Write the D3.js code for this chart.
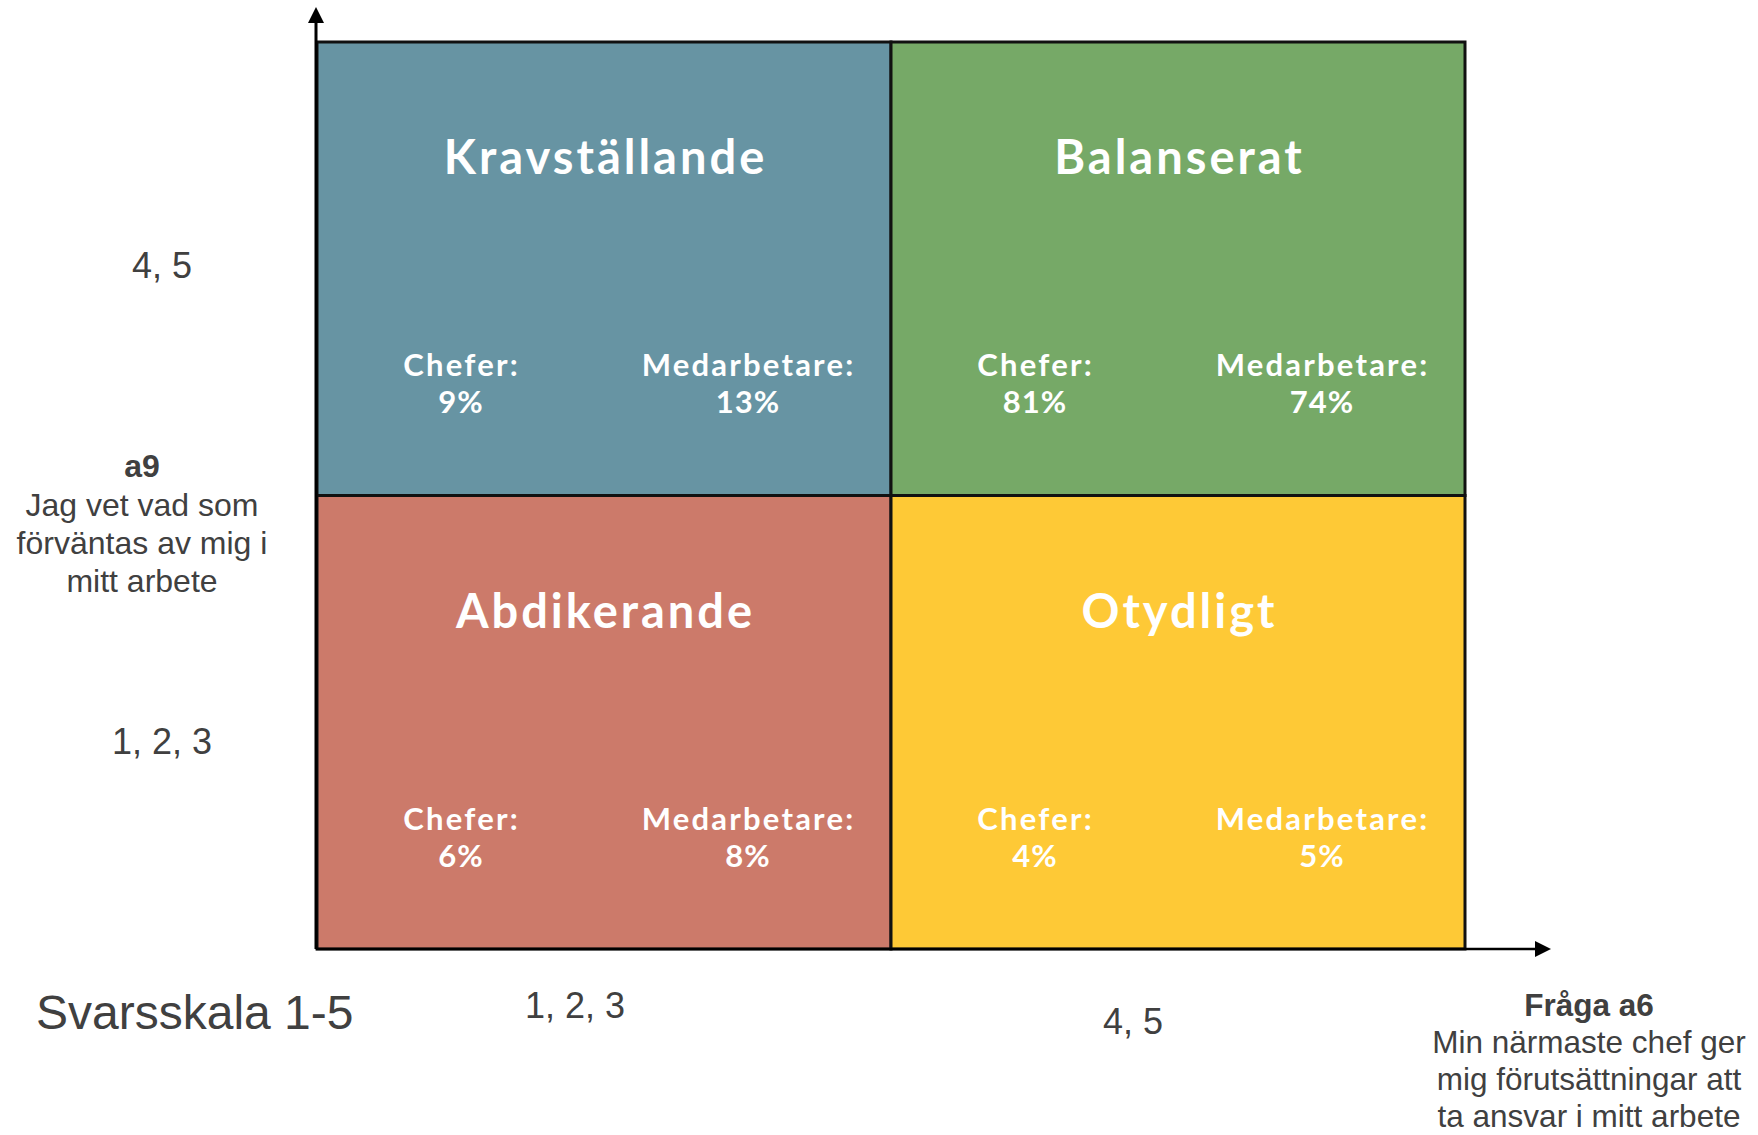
<!DOCTYPE html>
<html>
<head>
<meta charset="utf-8">
<script src="https://cdn.jsdelivr.net/npm/d3@7"></script>
<style>
  html, body { margin: 0; padding: 0; background: #ffffff; }
  svg { display: block; }
</style>
</head>
<body>
<svg id="chart" width="1758" height="1135"></svg>
<script>
// ---- data ----
const xCategories = ["1, 2, 3", "4, 5"];            // Fråga a6 answer groups
const yCategories = ["1, 2, 3", "4, 5"];            // a9 answer groups
const quadrantX = ["1, 2, 3", "4, 5", "1, 2, 3", "4, 5"];
const quadrantY = ["4, 5", "4, 5", "1, 2, 3", "1, 2, 3"];
const quadrantNames = ["Kravställande", "Balanserat", "Abdikerande", "Otydligt"];
const cheferValues = [9, 81, 6, 4];
const medarbetareValues = [13, 74, 8, 5];
const groupLabels = ["Chefer:", "Medarbetare:"];
const scaleLabel = "Svarsskala 1-5";
const yTitleBold = "a9";
const yTitleLines = ["Jag vet vad som", "förväntas av mig i", "mitt arbete"];
const xTitleBold = "Fråga a6";
const xTitleLines = ["Min närmaste chef ger", "mig förutsättningar att", "ta ansvar i mitt arbete"];

// ---- styles ----
const quadColors = ["#6794A3", "#76A967", "#CC7A6A", "#FEC936"];
const textGray = "#404040";
const titleFont = "Lato, 'Noto Sans', sans-serif";
const labelFont = "'Liberation Sans', Arial, sans-serif";

const svg = d3.select("#chart");
const plotLeft = 317, plotRight = 1465, plotTop = 42, plotBottom = 949;

const x = d3.scaleBand().domain(xCategories).range([plotLeft, plotRight]);
const y = d3.scaleBand().domain(yCategories).range([plotBottom, plotTop]);

const quads = quadrantNames.map((name, i) => ({
  name, xk: quadrantX[i], yk: quadrantY[i],
  chefer: cheferValues[i], medarbetare: medarbetareValues[i], color: quadColors[i]
}));

// quadrants
svg.selectAll("rect.quad").data(quads).enter().append("rect")
  .attr("class", "quad")
  .attr("x", d => x(d.xk)).attr("y", d => y(d.yk))
  .attr("width", x.bandwidth()).attr("height", y.bandwidth())
  .attr("fill", d => d.color)
  .attr("stroke", "#111").attr("stroke-width", 3);

// quadrant titles
const titleSpacing = 3;
svg.selectAll("text.qtitle").data(quads).enter().append("text")
  .attr("class", "qtitle")
  .attr("x", d => x(d.xk) + x.bandwidth() / 2 + titleSpacing / 2)
  .attr("y", d => y(d.yk) + 132)
  .attr("text-anchor", "middle")
  .attr("fill", "#fff")
  .attr("font-family", titleFont)
  .attr("font-weight", 700)
  .attr("font-size", 47)
  .attr("letter-spacing", titleSpacing)
  .text(d => d.name);

// group labels and values
const subs = [];
quads.forEach(q => {
  subs.push({ q, label: groupLabels[0], value: q.chefer, frac: 0.25 });
  subs.push({ q, label: groupLabels[1], value: q.medarbetare, frac: 0.75 });
});
const labelSpacing = 2.2;
const subG = svg.selectAll("g.sub").data(subs).enter().append("g").attr("class", "sub");
subG.append("text")
  .attr("x", d => x(d.q.xk) + x.bandwidth() * d.frac + labelSpacing / 2)
  .attr("y", d => y(d.q.yk) + 334)
  .attr("text-anchor", "middle").attr("fill", "#fff")
  .attr("font-family", titleFont).attr("font-weight", 700).attr("font-size", 31)
  .attr("letter-spacing", labelSpacing)
  .text(d => d.label);
subG.append("text")
  .attr("x", d => x(d.q.xk) + x.bandwidth() * d.frac + 0.5)
  .attr("y", d => y(d.q.yk) + 371)
  .attr("text-anchor", "middle").attr("fill", "#fff")
  .attr("font-family", titleFont).attr("font-weight", 700).attr("font-size", 31)
  .attr("letter-spacing", 1)
  .text(d => d.value + "%");

// axes with arrows
const axisX = 316;
svg.append("line").attr("x1", axisX).attr("x2", axisX).attr("y1", plotBottom).attr("y2", 20)
  .attr("stroke", "#000").attr("stroke-width", 3);
svg.append("path").attr("d", `M${axisX},7 L${axisX - 8},23 L${axisX + 8},23 Z`).attr("fill", "#000");
svg.append("line").attr("x1", axisX).attr("x2", 1537).attr("y1", plotBottom).attr("y2", plotBottom)
  .attr("stroke", "#000").attr("stroke-width", 2.5);
svg.append("path").attr("d", `M1551,${plotBottom} L1535,${plotBottom - 8} L1535,${plotBottom + 8} Z`).attr("fill", "#000");

// tick labels
const yTickNudge = { "4, 5": -3, "1, 2, 3": 20 };
svg.selectAll("text.ytick").data(yCategories).enter().append("text")
  .attr("class", "ytick")
  .attr("x", 162)
  .attr("y", d => y(d) + y.bandwidth() / 2 + 12 + yTickNudge[d])
  .attr("text-anchor", "middle").attr("fill", textGray)
  .attr("font-family", labelFont).attr("font-size", 36)
  .text(d => d);

const xTickNudge = { "1, 2, 3": [-29, 1018], "4, 5": [-45, 1034] };
svg.selectAll("text.xtick").data(xCategories).enter().append("text")
  .attr("class", "xtick")
  .attr("x", d => x(d) + x.bandwidth() / 2 + xTickNudge[d][0])
  .attr("y", d => xTickNudge[d][1])
  .attr("text-anchor", "middle").attr("fill", textGray)
  .attr("font-family", labelFont).attr("font-size", 36)
  .text(d => d);

// scale label
svg.append("text").attr("x", 36).attr("y", 1029)
  .attr("fill", textGray).attr("font-family", labelFont).attr("font-size", 48)
  .text(scaleLabel);

// y title
const yT = svg.append("text").attr("text-anchor", "middle").attr("fill", textGray)
  .attr("font-family", labelFont).attr("font-size", 32);
yT.append("tspan").attr("x", 142).attr("y", 477).attr("font-weight", 700).text(yTitleBold);
yTitleLines.forEach((l, i) => yT.append("tspan").attr("x", 142).attr("y", 516 + i * 38).text(l));

// x title
const xT = svg.append("text").attr("text-anchor", "middle").attr("fill", textGray)
  .attr("font-family", labelFont).attr("font-size", 31.5);
xT.append("tspan").attr("x", 1589).attr("y", 1016).attr("font-weight", 700).text(xTitleBold);
xTitleLines.forEach((l, i) => xT.append("tspan").attr("x", 1589).attr("y", 1053 + i * 37).text(l));
</script>
</body>
</html>
